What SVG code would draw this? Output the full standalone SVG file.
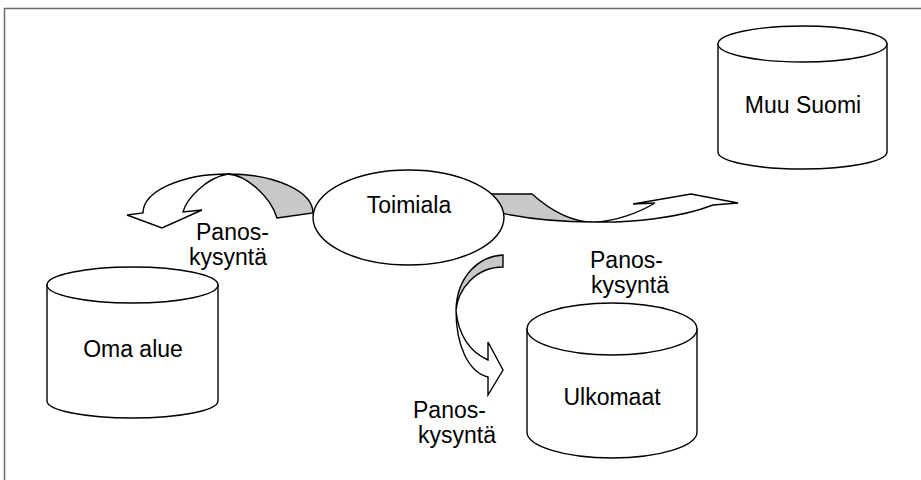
<svg xmlns="http://www.w3.org/2000/svg" width="921" height="480" viewBox="0 0 921 480">
<style>
.frame{fill:#fff;stroke:#6b6b6b;stroke-width:1.5}
.shape{fill:#fff;stroke:#000;stroke-width:1.4;stroke-linejoin:miter}
.back{fill:#c8c8c8;stroke:#000;stroke-width:1.4;stroke-linejoin:miter}
.front{fill:#fff;stroke:#000;stroke-width:1.4;stroke-linejoin:miter}
text{font-family:"Liberation Sans",Arial,sans-serif;font-size:23px;fill:#000}
.c{text-anchor:middle}
</style>
<rect class="frame" x="4.5" y="8.5" width="930" height="490"/>
<g id="connectors">
  <g id="arrow-oma-alue">
    <path class="back" d="M277,218 L313,213 A85 39 0 0 0 228,174 C245,175 270,195 277,218 Z"/>
    <path class="front" d="M228,174 A85 39 0 0 0 143,213 L127,215 L162,228 L202,210 L183,212 C186,200 205,178 228,174 Z"/>
  </g>
  <g id="arrow-muu-suomi">
    <path class="back" d="M480,194 L532,194 C550,210 570,222 593,222 C560,222 520,219 480,208 Z"/>
    <path class="front" d="M593,222 C615,222 640,212 655,203 L633,204 L691,194 L738,203 L713,205 C680,218 630,223 593,222 Z"/>
  </g>
  <g id="arrow-ulkomaat">
    <path class="back" d="M503,255 C480,256 457,275 456,310 C458,290 475,267 503,267 Z"/>
    <path class="front" d="M456,310 C456,345 468,372 488,377 L488,395 L503,370 L488,342 L488,360 C470,352 458,335 456,310 Z"/>
  </g>
</g>
<g id="toimiala">
  <ellipse class="shape" cx="408.5" cy="217.5" rx="95.5" ry="47.5"/>
  <text class="c" x="409" y="213">Toimiala</text>
</g>
<g id="muu-suomi">
  <path class="shape" d="M718,44 L718,152 A84.5 17 0 0 0 887,152 L887,44 Z"/>
  <ellipse class="shape" cx="802.5" cy="44" rx="84.5" ry="18"/>
  <text class="c" x="803" y="113">Muu Suomi</text>
</g>
<g id="oma-alue">
  <path class="shape" d="M47,285 L47,401 A85.5 17 0 0 0 218,401 L218,285 Z"/>
  <ellipse class="shape" cx="132.5" cy="285" rx="85.5" ry="18"/>
  <text class="c" x="133" y="357">Oma alue</text>
</g>
<g id="ulkomaat">
  <path class="shape" d="M527,329 L527,432 A85 26 0 0 0 697,432 L697,329 Z"/>
  <ellipse class="shape" cx="612" cy="329" rx="85" ry="26"/>
  <text class="c" x="612" y="405">Ulkomaat</text>
</g>
<g id="labels">
  <text x="196" y="240">Panos-</text>
  <text x="189" y="265">kysyntä</text>
  <text x="590" y="268">Panos-</text>
  <text x="591" y="293">kysyntä</text>
  <text x="413" y="418">Panos-</text>
  <text x="418" y="443">kysyntä</text>
</g>
</svg>
